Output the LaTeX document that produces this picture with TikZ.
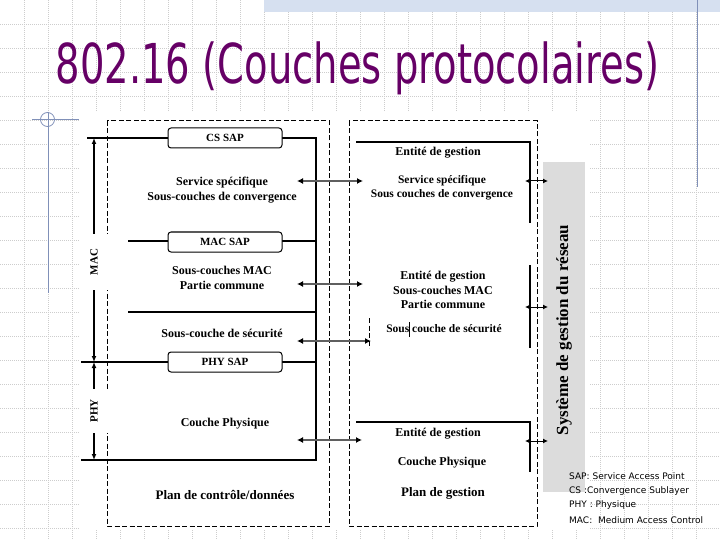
\documentclass[tikz,border=0pt]{standalone}
\usepackage{fontspec}
\setmainfont{Liberation Serif}
\newfontfamily\titlefont{DejaVu Sans}
\newfontfamily\notefont{DejaVu Sans}
\usetikzlibrary{arrows.meta}

\definecolor{titlecol}{RGB}{102,0,102}
\definecolor{gridcol}{RGB}{205,205,205}
\definecolor{decocol}{RGB}{128,144,184}
\definecolor{barcol}{RGB}{214,224,240}
\definecolor{panelcol}{RGB}{220,220,220}
\definecolor{linkcol}{RGB}{95,95,95}

\tikzset{
  lbl/.style={font=\bfseries\fontsize{12}{15}\selectfont, align=center, inner sep=1pt},
  sapbox/.style={draw, line width=1pt, rounded corners=3pt, fill=white, minimum width=114pt,
    minimum height=20pt, inner sep=0pt, font=\bfseries\fontsize{11}{11}\selectfont},
  plane/.style={line width=1pt, dash pattern=on 5pt off 2.5pt},
  layer/.style={line width=1.2pt},
  link/.style={linkcol, line width=1.5pt, {Latex[length=6pt,width=6pt,black]}-{Latex[length=6pt,width=6pt,black]}},
  mgmt/.style={line width=1pt, {Latex[length=5pt,width=5pt]}-{Latex[length=5pt,width=5pt]}},
  span/.style={line width=1.2pt, {Latex[length=6pt,width=5pt]}-{Latex[length=6pt,width=5pt]}},
  tag/.style={font=\bfseries\fontsize{11}{11}\selectfont, rotate=90, fill=white,
    minimum height=30pt, inner sep=0pt},
  note/.style={font=\notefont\fontsize{9}{9}\selectfont, anchor=west, inner sep=0pt}
}

\begin{document}
\begin{tikzpicture}[x=1pt, y=-1pt]
    \useasboundingbox (0,0) rectangle (720,540);
    % slide background
    \foreach \gx in {24,48,...,696}
        \draw[gridcol, line width=0.6pt, dash pattern=on 1pt off 1pt] (\gx,0) -- (\gx,540);
    \foreach \gy in {24,48,...,528}
        \draw[gridcol, line width=0.6pt, dash pattern=on 1pt off 1pt] (0,\gy) -- (720,\gy);
    \fill[barcol] (264,0) rectangle (720,12);
    \draw[decocol, line width=1pt] (697,0) -- (697,187);
    \draw[decocol, line width=1pt] (48,112) -- (48,293);
    \draw[decocol, line width=1pt] (32,120) -- (79,120);
    \draw[decocol, line width=0.8pt] (47.5,119.5) circle (7pt);
    \node[titlecol, anchor=base, inner sep=0pt] (title) at (357.5,83.5)
        {\scalebox{0.70}[1]{\titlefont\fontsize{55}{55}\selectfont 802.16 (Couches protocolaires)}};
    \fill[white] (80,112) rectangle (590,530);

    % the two planes
    \draw[plane] (107,121) rectangle (329,526);
    \draw[plane] (349,121) rectangle (537,526);

    % data plane layers
    \coordinate (csW) at (87,138);   \coordinate (csE) at (316,138);
    \coordinate (macW) at (128,241); \coordinate (macE) at (316,241);
    \coordinate (secW) at (128,312); \coordinate (secE) at (316,312);
    \coordinate (phyW) at (81,362);  \coordinate (phyE) at (316,362);
    \coordinate (botW) at (81,460);  \coordinate (botE) at (316,460);
    \draw[layer] (csW) -- (csE) -- (botE) -- (botW);
    \draw[layer] (macW) -- (macE);
    \draw[layer] (secW) -- (secE);
    \draw[layer] (phyW) -- (phyE);
    \node[sapbox] (cssap) at (225,138) {CS SAP};
    \node[sapbox] (macsap) at (225,242) {MAC SAP};
    \node[sapbox] (physap) at (225,362) {PHY SAP};
    \node[lbl] (cs) at (222,190) {Service spécifique\\Sous-couches de convergence};
    \node[lbl] (mac) at (222,278) {Sous-couches MAC\\Partie commune};
    \node[lbl] (sec) at (222,333) {Sous-couche de sécurité};
    \node[lbl] (phy) at (225,424) {Couche Physique};
    \node[lbl, font=\bfseries\fontsize{13}{13}\selectfont] (dplane) at (225,495) {Plan de contrôle/données};

    % MAC / PHY extent
    \coordinate (macT) at (94,138); \coordinate (macB) at (94,362);
    \coordinate (phyT) at (94,362); \coordinate (phyB) at (94,460);
    \draw[span] (macT) -- (macB);
    \draw[span] (phyT) -- (phyB);
    \node[tag, minimum width=56pt] (mactag) at (94,262) {MAC};
    \node[tag, minimum width=44pt] (phytag) at (94,411) {PHY};

    % management plane
    \coordinate (mtW) at (356,142); \coordinate (mtC) at (530,142); \coordinate (mtE) at (530,223);
    \coordinate (mmT) at (530,265); \coordinate (mmB) at (530,348);
    \coordinate (mbW) at (356,422); \coordinate (mbC) at (530,422); \coordinate (mbE) at (530,472);
    \coordinate (msT) at (369,318); \coordinate (msB) at (369,348);
    \draw[layer] (mtW) -- (mtC) -- (mtE);
    \draw[layer] (mmT) -- (mmB);
    \draw[layer] (mbW) -- (mbC) -- (mbE);
    \draw[plane] (msT) -- (msB);
    \node[lbl] (ent1) at (438,153) {Entité de gestion};
    \node[lbl, font=\bfseries\fontsize{11.5}{14}\selectfont] (mcs) at (442,188) {Service spécifique\\Sous couches de convergence};
    \node[lbl, font=\bfseries\fontsize{12}{14.5}\selectfont] (mmac) at (443,290) {Entité de gestion\\Sous-couches MAC\\Partie commune};
    \node[lbl, font=\bfseries\fontsize{11.5}{14}\selectfont] (msec) at (444,329) {Sous couche de sécurité};
    \draw[line width=0.8pt] (409,322) -- (409,337);
    \node[lbl] (ent3) at (438,434) {Entité de gestion};
    \node[lbl] (mphy) at (442,463) {Couche Physique};
    \node[lbl, font=\bfseries\fontsize{13}{13}\selectfont] (mplane) at (443,493) {Plan de gestion};

    % links between planes
    \coordinate (l1) at (297,181); \coordinate (r1) at (363,181);
    \coordinate (l2) at (297,284); \coordinate (r2) at (363,284);
    \coordinate (l3) at (297,341); \coordinate (r3) at (371,341);
    \coordinate (l4) at (297,440); \coordinate (r4) at (362,440);
    \draw[link] (l1) -- (r1);
    \draw[link] (l2) -- (r2);
    \draw[link] (l3) -- (r3);
    \draw[link] (l4) -- (r4);

    % network management system
    \fill[panelcol] (543,162) rectangle (585,492);
    \node[font=\bfseries\fontsize{17}{17}\selectfont, rotate=90] (nms) at (564,330) {Système de gestion du réseau};
    \coordinate (n1) at (525,181); \coordinate (p1) at (548,181);
    \coordinate (n2) at (525,307); \coordinate (p2) at (548,307);
    \coordinate (n3) at (525,441); \coordinate (p3) at (548,441);
    \draw[mgmt] (n1) -- (p1);
    \draw[mgmt] (n2) -- (p2);
    \draw[mgmt] (n3) -- (p3);

    % legend
    \node[note] (k1) at (569,476) {SAP: Service Access Point};
    \node[note] (k2) at (569,491) {CS :Convergence Sublayer};
    \node[note] (k3) at (569,505) {PHY : Physique};
    \node[note] (k4) at (569,520) {MAC:\ \ Medium Access Control};
\end{tikzpicture}
\end{document}
